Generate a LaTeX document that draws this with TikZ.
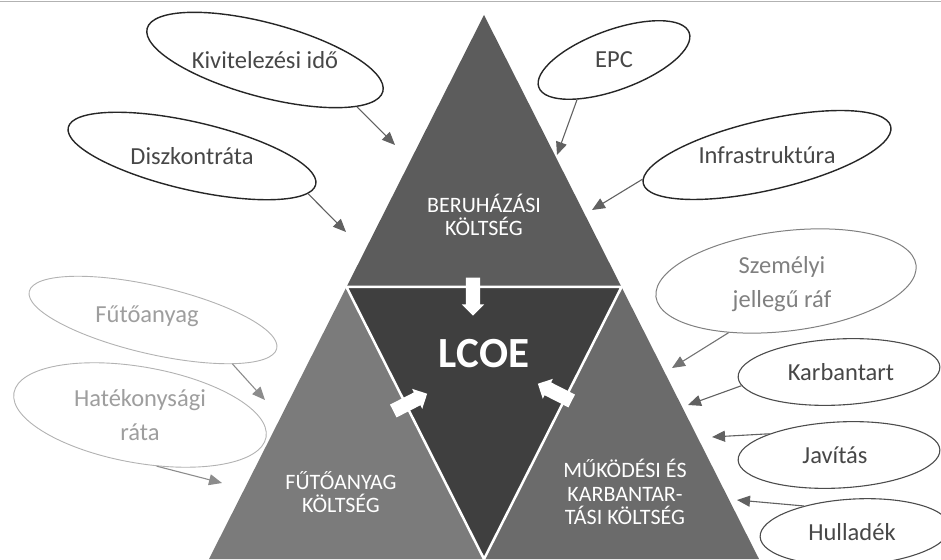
\documentclass[tikz,border=0pt]{standalone}
\usepackage{fontspec}
\setmainfont{Carlito}
\usetikzlibrary{shapes.geometric,shapes.arrows,arrows.meta}
\definecolor{topgray}{HTML}{5C5C5C}
\definecolor{coregray}{HTML}{3F3F3F}
\definecolor{leftgray}{HTML}{7B7B7B}
\definecolor{rightgray}{HTML}{6B6B6B}
\begin{document}
\begin{tikzpicture}[x=1pt, y=1pt,
    bubble/.style={shape=ellipse, fill=white, draw=black!85, line width=1.4pt, inner sep=0pt},
    palebubble/.style={bubble, draw=black!30, line width=0.9pt},
    greybubble/.style={bubble, draw=black!50, line width=1pt},
    btext/.style={font=\fontsize{24.5}{34}\selectfont, text=black!72, align=center},
    corelabel/.style={font=\fontsize{22}{23.5}\selectfont, text=white, align=center},
    feed/.style={draw=black!62, line width=1.1pt, -{Triangle[length=13pt,width=11pt]}},
    push/.style={single arrow, fill=white, inner sep=0pt, text height=14pt, text depth=0pt,
      minimum height=38pt, single arrow head extend=4pt}]
  \useasboundingbox (0,0) rectangle (941,559);
  \draw[black!30, line width=1pt] (0,557) -- (941,557);

  % pyramid
  \coordinate (apex) at (484,544);
  \coordinate (bl) at (209,0);
  \coordinate (br) at (759,0);
  \coordinate (ml) at (346.5,272);
  \coordinate (mr) at (621.5,272);
  \coordinate (bm) at (484,0);
  \fill[topgray] (apex) -- (ml) -- (mr) -- cycle;
  \fill[leftgray] (bl) -- (ml) -- (bm) -- cycle;
  \fill[rightgray] (bm) -- (mr) -- (br) -- cycle;
  \filldraw[fill=coregray, draw=white, line width=2.5pt] (ml) -- (mr) -- (bm) -- cycle;

  \node[corelabel] (invest) at (484,344) {BERUHÁZÁSI\\KÖLTSÉG};
  \node[font=\bfseries\fontsize{43}{43}\selectfont, text=white] (lcoe) at (484,205) {LCOE};
  \node[corelabel] (fuelcost) at (341,67) {FŰTŐANYAG\\KÖLTSÉG};
  \node[corelabel] (omcost) at (625,67) {MŰKÖDÉSI ÉS\\KARBANTAR-\\TÁSI KÖLTSÉG};

  \node[push, rotate=-90] (pushtop) at (473,266) {};
  \node[push, rotate=27] (pushleft) at (407,155) {};
  \node[push, rotate=153] (pushright) at (558,165) {};

  % upper bubbles
  \node[bubble, minimum width=244pt, minimum height=74pt, rotate=-15] (kiv) at (265,499) {};
  \node[btext] (kivtext) at (kiv) {Kivitelezési idő};
  \node[bubble, minimum width=254pt, minimum height=68pt, rotate=-13] (disz) at (192,403) {};
  \node[btext] (disztext) at (disz) {Diszkontráta};
  \node[bubble, minimum width=160pt, minimum height=60pt, rotate=20] (epc) at (614,499) {};
  \node[btext] (epctext) at (epc) {EPC};
  \node[bubble, minimum width=254pt, minimum height=70pt, rotate=13] (infra) at (767,404) {};
  \node[btext] (infratext) at (infra) {Infrastruktúra};

  % fuel bubbles
  \node[palebubble, minimum width=254pt, minimum height=68pt, rotate=-13] (fuel) at (153,239) {};
  \node[btext, text=black!38] (fueltext) at (147,243) {Fűtőanyag};
  \node[palebubble, minimum width=256pt, minimum height=96pt, rotate=-10] (eff) at (140,144) {};
  \node[btext, text=black!38] (efftext) at (eff) {Hatékonysági\\ráta};

  % O&M bubbles
  \node[greybubble, minimum width=262pt, minimum height=100pt, rotate=7] (staff) at (786,278) {};
  \node[btext, text=black!50] (stafftext) at (782,275) {Személyi\\jellegű ráf};
  \node[bubble, draw=black!70, line width=1.1pt, minimum width=202pt, minimum height=66pt, rotate=3] (maint) at (839,187) {};
  \node[btext] (mainttext) at (841,187) {Karbantart};
  \node[bubble, draw=black!70, line width=1.1pt, minimum width=202pt, minimum height=66pt, rotate=3] (repair) at (839,104) {};
  \node[btext] (repairtext) at (835,104) {Javítás};
  \node[bubble, draw=black!70, line width=1.1pt, minimum width=190pt, minimum height=66pt, rotate=3] (waste) at (855,27) {};
  \node[btext] (wastetext) at (852,27) {Hulladék};

  % free ends
  \coordinate (kivend) at (395,414);
  \coordinate (douend) at (346,327);
  \coordinate (epcend) at (557,404);
  \coordinate (infraend) at (592,349);
  \coordinate (fuelend) at (265,159);
  \coordinate (effend) at (222,76);
  \coordinate (staffend) at (672,191);
  \coordinate (maintend) at (688,154);
  \coordinate (repairend) at (712,122);
  \coordinate (wasteend) at (737,59);

  \draw[feed] (kiv.-12) -- (kivend);
  \draw[feed] (disz.-5) -- (douend);
  \draw[feed] (epc.207) -- (epcend);
  \draw[feed] (infra.178) -- (infraend);
  \draw[feed, draw=black!45] (fuel.-16) -- (fuelend);
  \draw[feed, draw=black!45] (eff.-62) -- (effend);
  \draw[feed, draw=black!55] (staff.215) -- (staffend);
  \draw[feed] (maint.185) -- (maintend);
  \draw[feed] (repair.160) -- (repairend);
  \draw[feed] (waste.150) -- (wasteend);
\end{tikzpicture}
\end{document}
